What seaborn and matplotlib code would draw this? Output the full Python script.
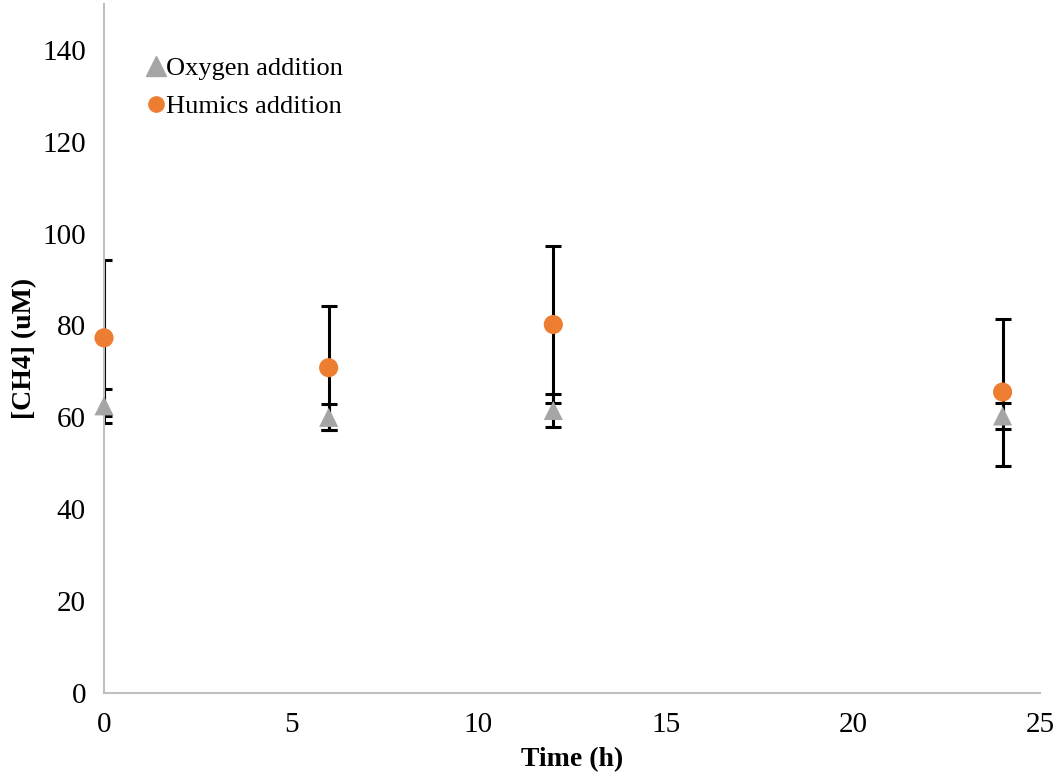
import matplotlib
matplotlib.use("Agg")
import matplotlib.pyplot as plt
import seaborn as sns
import pandas as pd

# Data
time_h = [0, 6, 12, 24]
oxygen = [62.5, 60.0, 61.5, 60.3]
oxygen_err = [3.7, 2.8, 3.6, 2.9]
humics = [77.3, 70.8, 80.2, 65.5]
humics_err = [17.0, 13.5, 17.0, 16.0]
series_names = ["Oxygen addition", "Humics addition"]
colors = ["#A5A5A5", "#ED7D31"]

sns.set_style("white")
plt.rcParams["font.family"] = ["Liberation Serif", "DejaVu Serif"]
plt.rcParams["text.color"] = "black"
plt.rcParams["axes.labelcolor"] = "black"
plt.rcParams["xtick.color"] = "black"
plt.rcParams["ytick.color"] = "black"

fig = plt.figure(figsize=(10.55, 7.74), dpi=100)
ax = fig.add_axes([0.0986, 0.1047, 0.8872, 0.8903])

# error bars (drawn underneath)
ax.errorbar(time_h, humics, yerr=humics_err, fmt="none", ecolor="black",
            elinewidth=2.2, capsize=6, capthick=2.2, zorder=1)
ax.errorbar(time_h, oxygen, yerr=oxygen_err, fmt="none", ecolor="black",
            elinewidth=2.2, capsize=6, capthick=2.2, zorder=1)

df = pd.DataFrame({
    "time": time_h * 2,
    "value": oxygen + humics,
    "series": [series_names[0]] * 4 + [series_names[1]] * 4,
})
sns.scatterplot(data=df, x="time", y="value", hue="series", style="series",
                markers={series_names[0]: "^", series_names[1]: "o"},
                palette=dict(zip(series_names, colors)),
                s=190, linewidth=0, ax=ax, zorder=3, legend=False)
for coll in ax.collections:
    if coll.get_offsets().shape[0] == 8:
        coll.set_clip_on(False)

ax.set_xlim(0, 25)
ax.set_ylim(0, 150)
ax.set_xticks([0, 5, 10, 15, 20, 25])
ax.set_yticks(range(0, 141, 20))
ax.tick_params(axis="x", length=0, labelsize=21, pad=14)
ax.tick_params(axis="y", length=0, labelsize=21, pad=13)
for s in ["top", "right"]:
    ax.spines[s].set_visible(False)
for s in ["left", "bottom"]:
    ax.spines[s].set_color("#BFBFBF")
    ax.spines[s].set_linewidth(1.5)

ax.set_xlabel("Time (h)", fontsize=20, fontweight="bold", labelpad=6)
ax.set_ylabel("[CH4] (uM)", fontsize=20, fontweight="bold")
ax.yaxis.set_label_coords(-0.072, 0.5)

from matplotlib.lines import Line2D
handles = [Line2D([], [], marker="^", color=colors[0], linestyle="none", markersize=15),
           Line2D([], [], marker="o", color=colors[1], linestyle="none", markersize=11)]
ax.legend(handles, series_names, loc="upper left", bbox_to_anchor=(0.013, 0.958),
          frameon=False, fontsize=19, handletextpad=-0.2, handlelength=1.2,
          labelspacing=0.55)

fig.savefig("out.png", dpi=100)
